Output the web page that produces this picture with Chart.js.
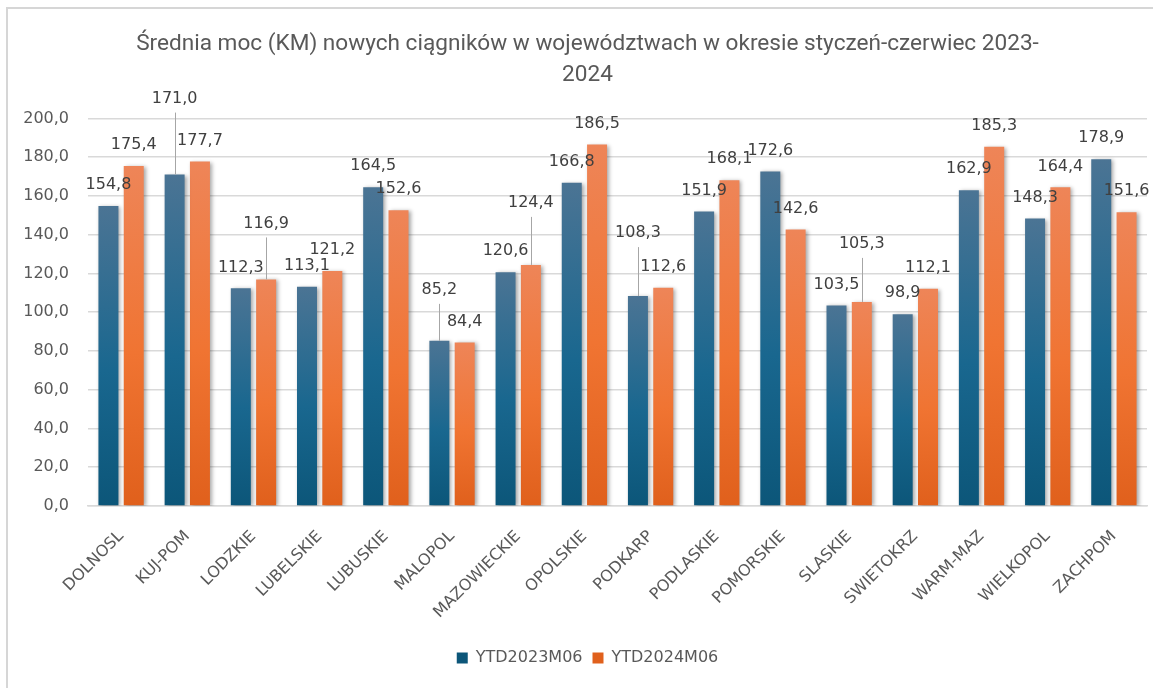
<!DOCTYPE html>
<html>
<head>
<meta charset="utf-8">
<script src="https://cdn.jsdelivr.net/npm/chart.js@4.4.1/dist/chart.umd.min.js"></script>
<style>
  html, body { margin: 0; padding: 0; background: #ffffff; }
  #wrap { position: relative; width: 1167px; height: 688px; }
</style>
</head>
<body>
<div id="wrap"><canvas id="c"></canvas></div>
<script>
const categories = ['DOLNOSL','KUJ-POM','LODZKIE','LUBELSKIE','LUBUSKIE','MALOPOL','MAZOWIECKIE','OPOLSKIE','PODKARP','PODLASKIE','POMORSKIE','SLASKIE','SWIETOKRZ','WARM-MAZ','WIELKOPOL','ZACHPOM'];
const ytd2023 = [154.8,171.0,112.3,113.1,164.5,85.2,120.6,166.8,108.3,151.9,172.6,103.5,98.9,162.9,148.3,178.9];
const ytd2024 = [175.4,177.7,116.9,121.2,152.6,84.4,124.4,186.5,112.6,168.1,142.6,105.3,112.1,185.3,164.4,151.6];
const seriesNames = ['YTD2023M06','YTD2024M06'];
const titleLines = ['Średnia moc (KM) nowych ciągników w województwach w okresie styczeń-czerwiec 2023-', '2024'];
const yTicks = { min: 0, max: 200, step: 20 };

// extra lift (px) for labels that Excel moved up with a leader line: [datasetIndex][categoryIndex]
const labelLift = { 0: { 1: 55, 5: 30, 8: 42 }, 1: { 2: 35, 6: 41, 11: 37 } };

const fmt = v => Number(v).toFixed(1).replace('.', ',');

function barGradient(stops, solid) {
  return (c) => {
    const chart = c.chart;
    if (c.type !== 'data' || !chart.chartArea || !chart.scales || !chart.scales.y) return solid;
    const y = chart.scales.y;
    const v = c.raw;
    const top = y.getPixelForValue(v), base = y.getPixelForValue(0);
    if (!isFinite(top) || !isFinite(base) || top === base) return solid;
    const g = chart.ctx.createLinearGradient(0, top, 0, base);
    stops.forEach(([o, col]) => g.addColorStop(o, col));
    return g;
  };
}

const shadowPlugin = {
  id: 'barShadow',
  beforeDatasetsDraw(chart) {
    const ctx = chart.ctx;
    ctx.save();
    ctx.shadowColor = 'rgba(0,0,0,0.35)';
    ctx.shadowBlur = 4;
    ctx.shadowOffsetX = 2;
    ctx.shadowOffsetY = 1;
  },
  afterDatasetsDraw(chart) { chart.ctx.restore(); }
};

const labelPlugin = {
  id: 'valueLabels',
  afterDatasetsDraw(chart) {
    const ctx = chart.ctx;
    ctx.save();
    ctx.font = '16px "DejaVu Sans"';
    ctx.fillStyle = '#404040';
    ctx.textAlign = 'center';
    ctx.textBaseline = 'middle';
    chart.data.datasets.forEach((ds, di) => {
      const meta = chart.getDatasetMeta(di);
      meta.data.forEach((bar, i) => {
        const lift = (labelLift[di] && labelLift[di][i]) || 0;
        const cy = bar.y - 21 - lift;
        if (lift) {
          ctx.save();
          ctx.strokeStyle = '#A6A6A6';
          ctx.lineWidth = 1;
          ctx.beginPath();
          ctx.moveTo(Math.round(bar.x) + 0.5, cy + 14);
          ctx.lineTo(Math.round(bar.x) + 0.5, bar.y);
          ctx.stroke();
          ctx.restore();
        }
        ctx.fillText(fmt(ds.data[i]), bar.x, cy);
      });
    });
    ctx.restore();
  }
};

const framePlugin = {
  id: 'frame',
  beforeDraw(chart) {
    const ctx = chart.ctx;
    ctx.save();
    ctx.fillStyle = '#ffffff';
    ctx.fillRect(0, 0, chart.width, chart.height);
    ctx.strokeStyle = '#D6D6D6';
    ctx.lineWidth = 2;
    ctx.beginPath();
    ctx.moveTo(7, chart.height);
    ctx.lineTo(7, 8);
    ctx.lineTo(1153, 8);
    ctx.stroke();
    ctx.restore();
  }
};

new Chart(document.getElementById('c'), {
  type: 'bar',
  data: {
    labels: categories,
    datasets: [
      {
        label: seriesNames[0],
        data: ytd2023,
        backgroundColor: barGradient([[0, '#4B7494'], [0.55, '#19678F'], [1, '#0C5679']], '#1A6189'),
        borderWidth: 0,
        categoryPercentage: 0.765,
        barPercentage: 0.79
      },
      {
        label: seriesNames[1],
        data: ytd2024,
        backgroundColor: barGradient([[0, '#EE8558'], [0.55, '#F07432'], [1, '#E0601C']], '#EE7535'),
        borderWidth: 0,
        categoryPercentage: 0.765,
        barPercentage: 0.79
      }
    ]
  },
  options: {
    responsive: true,
    maintainAspectRatio: false,
    animation: false,
    devicePixelRatio: 1,
    layout: { padding: { left: 12, right: 4, top: 16, bottom: 12 } },
    scales: {
      x: {
        grid: { display: false },
        border: { display: true, color: '#D9D9D9', width: 1.5 },
        ticks: {
          color: '#595959',
          font: { family: 'DejaVu Sans', size: 16 },
          minRotation: 45,
          maxRotation: 45,
          autoSkip: false,
          padding: 13
        },
        afterFit(scale) { scale.height = 134; }
      },
      y: {
        min: yTicks.min,
        max: yTicks.max,
        grid: { color: '#D9D9D9', lineWidth: 1.5, drawTicks: false },
        border: { display: false },
        ticks: {
          stepSize: yTicks.step,
          color: '#595959',
          font: { family: 'DejaVu Sans', size: 16 },
          padding: 19,
          callback: v => fmt(v)
        },
        afterFit(scale) { scale.width = 76; }
      },
      yRight: {
        position: 'right',
        display: true,
        min: yTicks.min,
        max: yTicks.max,
        grid: { display: false, drawTicks: false },
        border: { display: false },
        ticks: { display: false },
        afterFit(scale) { scale.width = 16; }
      }
    },
    plugins: {
      title: {
        display: true,
        text: titleLines,
        color: '#595959',
        font: { family: 'Roboto', size: 22.6, weight: 'normal', lineHeight: 1.38 },
        padding: { top: 13, bottom: 27 }
      },
      legend: {
        position: 'bottom',
        labels: {
          color: '#595959',
          font: { family: 'DejaVu Sans', size: 16 },
          boxWidth: 11,
          boxHeight: 11,
          padding: 10
        }
      },
      tooltip: { enabled: false }
    }
  },
  plugins: [framePlugin, shadowPlugin, labelPlugin]
});
</script>
</body>
</html>
